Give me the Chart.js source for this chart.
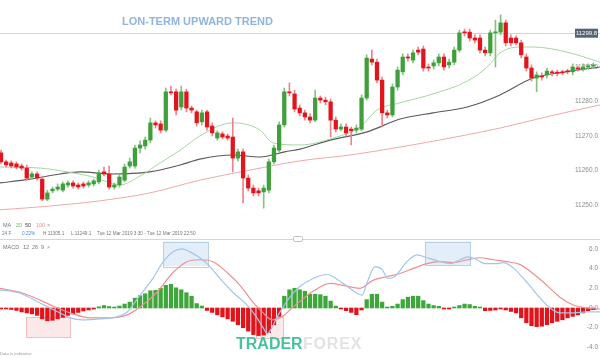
<!DOCTYPE html>
<html><head><meta charset="utf-8">
<script src="https://cdn.jsdelivr.net/npm/chart.js@4/dist/chart.umd.min.js"></script>
<style>
html,body{margin:0;padding:0;background:#fff;}
#wrap{position:relative;width:600px;height:358px;overflow:hidden;font-family:"Liberation Sans",Arial,sans-serif;}
canvas{position:absolute;left:0;}
.t{position:absolute;white-space:nowrap;line-height:1;}
</style></head><body>
<div id="wrap">
<canvas id="price" width="600" height="240" style="top:0"></canvas>
<canvas id="macd" width="600" height="118" style="top:240px"></canvas>
<div class="t" style="left:122px;top:15.5px;font-size:11px;font-weight:bold;color:#8fb4de;">LON-TERM UPWARD TREND</div>
<div class="t" style="left:3px;top:223.3px;font-size:5.5px;color:#777;">MA</div>
<div class="t" style="left:16px;top:223.3px;font-size:5.5px;color:#6dbb66;">20</div>
<div class="t" style="left:25px;top:223.3px;font-size:5.5px;color:#444;">50</div>
<div class="t" style="left:36px;top:223.3px;font-size:5.5px;color:#ef8f8f;">100</div>
<div class="t" style="left:47px;top:223.3px;font-size:5.5px;color:#999;">×</div>
<div class="t" style="left:2px;top:231.5px;font-size:4.7px;color:#6a86a6;">24 F</div>
<div class="t" style="left:22px;top:231.5px;font-size:4.7px;color:#4a8fd8;">0.22%</div>
<div class="t" style="left:43px;top:231.5px;font-size:4.7px;color:#777;">H 11305.1</div>
<div class="t" style="left:71px;top:231.5px;font-size:4.7px;color:#777;">L 11249.1</div>
<div class="t" style="left:97px;top:231.5px;font-size:4.7px;color:#777;">Tue 12 Mar 2019 3:30 - Tue 12 Mar 2019 22:50</div>
<div style="position:absolute;left:0;top:238.5px;width:600px;height:1px;background:#d6d6d6;"></div>
<div style="position:absolute;left:293px;top:236px;width:8px;height:4px;border:1px solid #c4c4c4;border-radius:2px;background:#fff;"></div>
<div class="t" style="left:3px;top:244.6px;font-size:5.5px;color:#777;">MACD</div>
<div class="t" style="left:23px;top:244.6px;font-size:5.5px;color:#777;">12</div>
<div class="t" style="left:32px;top:244.6px;font-size:5.5px;color:#777;">26</div>
<div class="t" style="left:41px;top:244.6px;font-size:5.5px;color:#777;">9</div>
<div class="t" style="left:47px;top:244.6px;font-size:5.5px;color:#999;">×</div>
<div class="t" style="left:0px;top:351.5px;font-size:4.2px;color:#999;">Data is indicative</div>
<div class="t" style="left:236px;top:335.5px;font-size:16px;font-weight:bold;color:#45c49b;letter-spacing:0px;">TRADER</div>
<div class="t" style="left:303px;top:335.5px;font-size:16px;font-weight:bold;color:#e3e3e3;letter-spacing:0.8px;">FOREX</div>
</div>
<script>
// ---------- price panel data ----------
const opens  = [11265.1,11262.5,11262.2,11261.9,11261.3,11260.7,11258.1,11259.0,11257.5,11251.7,
  11254.1,11254.6,11254.3,11255.8,11256.4,11255.8,11256.1,11255.8,11256.1,11256.7,
  11259.6,11259.0,11255.2,11255.8,11257.2,11261.3,11261.3,11266.5,11267.1,11268.8,
  11273.8,11273.5,11271.7,11282.8,11282.8,11278.4,11282.8,11278.1,11277.0,11274.1,
  11277.0,11272.9,11269.4,11270.6,11270.0,11269.7,11263.6,11265.4,11257.8,11254.9,
  11254.1,11253.8,11254.3,11262.5,11265.9,11273.2,11282.8,11282.2,11278.1,11276.7,
  11275.5,11274.6,11281.0,11280.4,11279.9,11274.6,11272.0,11272.6,11272.0,11271.7,
  11272.0,11281.0,11292.3,11291.4,11286.2,11276.7,11276.1,11284.2,11288.6,11292.9,
  11292.0,11294.9,11295.2,11290.0,11290.3,11291.2,11292.9,11290.6,11291.4,11294.9,
  11300.1,11300.1,11298.4,11298.4,11294.9,11294.1,11299.9,11300.1,11302.8,11298.4,
  11298.4,11297.0,11292.9,11289.7,11286.8,11287.4,11287.7,11288.6,11288.5,11288.6,
  11288.8,11288.6,11289.7,11289.4,11290.0,11290.3];
const closes = [11262.5,11261.6,11261.3,11261.0,11260.7,11257.8,11259.0,11257.8,11251.7,11253.5,
  11254.6,11255.2,11256.1,11256.4,11255.5,11255.2,11255.5,11256.4,11257.0,11259.3,
  11259.0,11255.2,11255.8,11258.1,11261.0,11262.5,11266.5,11267.4,11268.8,11273.8,
  11273.2,11271.7,11282.8,11282.5,11277.5,11282.8,11278.1,11277.5,11273.8,11276.7,
  11272.6,11270.9,11270.9,11269.7,11269.4,11263.6,11265.4,11257.8,11254.9,11253.5,
  11253.5,11254.9,11262.5,11266.5,11273.2,11282.8,11282.5,11277.8,11276.7,11275.5,
  11274.6,11281.0,11280.4,11279.9,11274.6,11272.0,11272.6,11270.9,11271.5,11272.3,
  11281.0,11292.6,11291.4,11286.2,11276.7,11276.1,11284.2,11289.1,11292.9,11292.6,
  11294.1,11294.3,11289.7,11289.7,11291.2,11292.9,11290.0,11291.4,11294.9,11299.9,
  11299.9,11298.4,11297.8,11294.9,11294.1,11299.9,11300.1,11302.8,11297.0,11297.0,
  11297.0,11293.5,11289.7,11286.8,11287.7,11287.1,11288.8,11288.3,11288.2,11288.3,
  11288.6,11290.0,11289.4,11290.0,11290.3,11290.6];
const highs  = [11265.9,11263.0,11262.8,11262.5,11261.9,11261.6,11259.6,11259.6,11258.4,11254.3,
  11255.2,11256.1,11256.7,11257.0,11257.0,11256.4,11256.7,11257.0,11257.5,11260.1,
  11261.0,11261.3,11256.4,11259.0,11261.9,11263.6,11267.4,11268.6,11269.7,11275.2,
  11274.4,11274.4,11283.9,11284.5,11283.6,11284.5,11283.6,11278.7,11277.5,11277.5,
  11277.5,11273.8,11271.5,11271.2,11270.6,11275.2,11266.2,11266.2,11258.7,11255.8,
  11254.9,11255.8,11263.3,11267.4,11274.1,11283.9,11285.4,11283.3,11279.0,11277.5,
  11276.4,11283.3,11281.6,11281.3,11280.7,11275.5,11273.5,11273.5,11272.6,11273.2,
  11281.9,11293.5,11294.9,11292.3,11287.1,11277.5,11285.1,11290.0,11293.8,11293.8,
  11294.9,11295.8,11296.1,11290.9,11292.0,11293.8,11293.8,11292.3,11295.8,11300.7,
  11301.0,11301.0,11299.3,11299.3,11295.8,11300.7,11303.6,11305.1,11303.6,11299.3,
  11299.0,11297.8,11293.8,11290.6,11288.6,11288.3,11289.7,11289.1,11289.1,11289.1,
  11289.4,11290.9,11290.3,11290.9,11290.9,11291.2];
const lows   = [11261.9,11261.0,11260.7,11260.4,11260.1,11257.2,11257.5,11257.2,11251.2,11251.2,
  11253.5,11254.1,11253.8,11255.2,11254.9,11254.6,11254.9,11255.2,11255.5,11256.1,
  11258.4,11254.6,11254.6,11255.2,11256.7,11260.7,11260.7,11265.1,11266.2,11268.0,
  11272.3,11270.9,11271.2,11281.9,11276.1,11277.5,11277.0,11276.7,11272.9,11273.2,
  11271.7,11270.0,11268.8,11269.1,11268.8,11259.6,11262.8,11250.6,11254.1,11252.6,
  11252.6,11249.1,11253.5,11261.9,11265.4,11272.6,11281.6,11277.0,11275.8,11274.6,
  11273.8,11274.1,11279.6,11279.0,11269.7,11271.2,11271.5,11270.0,11267.4,11270.9,
  11271.5,11280.4,11290.6,11285.4,11272.6,11275.2,11275.5,11283.3,11287.7,11291.7,
  11291.2,11293.5,11288.8,11288.8,11289.4,11290.3,11289.1,11289.7,11290.6,11294.3,
  11299.0,11297.5,11297.0,11294.1,11293.2,11293.2,11290.0,11299.3,11296.1,11296.1,
  11296.4,11292.6,11288.8,11285.9,11282.8,11286.2,11286.8,11287.4,11287.4,11287.7,
  11288.0,11287.7,11288.8,11288.8,11289.4,11289.7];
const lastPrice = 11299.8;
const priceTicks = [11250, 11260, 11270, 11280, 11290];

// moving averages: candle position -> value
const ma20At  = [-0.2,7.6,12.8,17.9,21.2,23.1,27.0,30.9,34.8,38.6,45.0,50.3,52.8,58.1,64.5,69.7,73.0,77.5,83.9,90.5,94.4,96.9,100.8,103.3,109.9,116.3];
const ma20    = [11261.0,11260.7,11259.6,11258.1,11256.4,11255.8,11258.4,11262.2,11265.9,11270.0,11273.8,11271.7,11268.0,11267.4,11269.4,11272.6,11277.5,11279.6,11282.2,11285.9,11290.0,11294.1,11295.8,11295.8,11294.3,11291.4];
const ma50At  = [-0.2,5.6,11.5,15.3,21.2,28.9,34.8,38.6,45.0,50.3,55.1,58.1,63.9,71.1,77.5,83.9,90.5,96.9,103.3,109.9,116.3];
const ma50    = [11256.4,11257.5,11259.0,11259.6,11259.0,11259.6,11261.6,11263.3,11264.5,11263.9,11265.4,11266.2,11268.8,11271.2,11274.9,11276.7,11278.4,11281.9,11286.8,11288.6,11290.0];
const ma100At = [-0.2,9.5,19.2,28.9,38.6,48.3,58.1,67.8,77.5,87.2,96.9,106.6,116.3];
const ma100   = [11248.6,11249.7,11251.2,11253.5,11257.2,11260.1,11262.8,11264.5,11266.8,11269.4,11272.3,11275.8,11279.0];

// ---------- MACD panel data ----------
const hist = [-0.05,-0.1,-0.15,-0.25,-0.4,-0.5,-0.6,-0.75,-1.1,-1.3,
  -1.25,-1.1,-0.95,-0.75,-0.6,-0.45,-0.3,-0.2,-0.05,0.12,
  0.25,0.15,0.1,0.2,0.4,0.6,1.0,1.25,1.45,1.75,
  1.8,2.0,2.3,2.4,2.05,1.85,1.55,1.2,0.45,0.2,
  -0.25,-0.45,-0.7,-0.9,-1.1,-1.35,-1.7,-2.0,-2.35,-2.7,
  -2.8,-2.75,-2.5,-1.7,-0.85,1.2,1.85,2.0,1.85,1.7,
  1.4,1.4,1.35,1.2,0.7,0.2,-0.07,-0.27,-0.45,-0.68,
  -0.2,0.85,1.4,1.4,0.6,0.02,0.17,0.4,0.85,1.1,
  1.2,1.2,0.75,0.4,0.25,0.17,-0.02,-0.1,0.03,0.25,
  0.4,0.35,0.17,0.05,-0.27,-0.25,-0.2,-0.05,-0.2,-0.35,
  -0.5,-1.0,-1.5,-1.8,-1.9,-1.85,-1.7,-1.5,-1.35,-1.2,
  -1.0,-0.85,-0.7,-0.5,-0.27,-0.17];
const macdAt = [-0.2,3.7,7.6,11.5,13.4,15.9,19.2,22.5,24.5,27.0,29.5,31.5,33.4,35.1,36.7,38.6,40.2,42.5,45.0,47.8,49.7,50.9,51.7,52.6,53.6,54.8,56.1,58.1,60.6,63.3,66.4,69.1,70.1,71.1,72.6,74.0,75.1,76.5,78.8,80.8,82.7,84.7,87.2,89.1,90.7,92.4,94.0,96.3,97.5,99.4,102.1,104.7,106.6,108.5,111.1,113.8,116.3];
const macdLine = [1.85,1.5,0.5,-0.5,-1.0,-1.2,-1.1,-0.9,-0.4,1.3,3.0,4.7,5.7,6.0,5.7,5.1,4.4,3.0,1.6,0.3,-1.0,-2.0,-2.6,-2.0,-0.9,0.1,1.1,2.2,3.0,3.4,2.5,1.5,1.3,2.6,4.2,3.9,3.0,3.2,4.7,5.4,5.1,4.8,4.5,4.9,5.2,4.9,4.5,4.5,4.6,4.1,2.6,1.0,0.0,-0.5,-0.5,-0.4,-0.4];
const signalAt = [-0.2,3.7,7.6,10.5,13.4,17.3,21.2,24.5,27.0,30.3,33.4,36.1,38.6,41.2,43.9,46.4,48.9,50.9,52.6,54.8,56.1,58.1,60.6,63.9,66.4,69.7,72.2,75.0,77.5,80.0,82.7,85.2,87.8,90.5,93.0,95.5,98.3,100.8,103.3,106.0,108.5,111.1,113.8,116.3];
const signalLine = [2.0,1.6,0.8,0.1,-0.5,-1.0,-1.0,-0.7,0.1,1.6,3.6,4.7,4.9,4.7,3.6,2.3,0.6,-0.5,-1.2,-0.8,-0.2,0.7,1.7,2.5,2.3,2.0,2.8,3.2,3.5,4.0,4.5,4.7,4.6,4.9,5.1,4.9,4.7,4.4,3.5,2.3,1.1,0.3,0.0,-0.1];
const macdTicks = [-4, -2, 0, 2, 4, 6];

// ---------- layout / style (not data) ----------
const xMin = -0.194, xMax = 116.3;
const priceMin = 11239.85, priceMax = 11309.42;
const macdMin = -5.076, macdMax = 6.904;
const highlightBoxes = [
  {x0:31.5, x1:40.2, y0:4.26, y1:6.75, fill:'rgba(200,221,243,0.5)', stroke:'rgba(175,203,233,0.9)'},
  {x0:82.3, x1:91.1, y0:4.37, y1:6.75, fill:'rgba(200,221,243,0.5)', stroke:'rgba(175,203,233,0.9)'},
  {x0:4.85, x1:13.4, y0:-2.94, y1:-0.91, fill:'rgba(248,210,210,0.5)', stroke:'rgba(240,185,185,0.9)'},
  {x0:49.5, x1:54.8, y0:-3.0, y1:-0.9, fill:'rgba(248,210,210,0.5)', stroke:'rgba(240,185,185,0.9)'}
];
const UP = '#3f9f3a', DOWN = '#e2141c', UP_WICK = '#86c281', DOWN_WICK = '#ea848b';
const tickFont = {size:6.5, family:'"Liberation Sans", Arial, sans-serif'};

const idx = opens.map((_, i) => i);
const up = idx.map(i => closes[i] >= opens[i]);
const pts = (xs, ys) => xs.map((x, i) => ({x, y: ys[i]}));

const priceLinePlugin = {
  id: 'priceLine',
  beforeDatasetsDraw(chart) {
    const {ctx, chartArea, scales} = chart;
    const py = Math.round(scales.y.getPixelForValue(lastPrice)) + 0.5;
    ctx.save();
    ctx.strokeStyle = '#d4d4d4'; ctx.lineWidth = 1;
    ctx.beginPath(); ctx.moveTo(chartArea.left, py); ctx.lineTo(chartArea.right, py); ctx.stroke();
    ctx.restore();
  },
  afterDatasetsDraw(chart) {
    const {ctx, chartArea, scales} = chart;
    const py = scales.y.getPixelForValue(lastPrice);
    ctx.save();
    ctx.fillStyle = '#556373';
    ctx.fillRect(chartArea.right - 25, py - 4.5, 23, 9);
    ctx.fillStyle = '#fff';
    ctx.font = '6px "Liberation Sans", Arial, sans-serif';
    ctx.textAlign = 'center'; ctx.textBaseline = 'middle';
    ctx.fillText(lastPrice.toFixed(1), chartArea.right - 13.5, py + 0.3);
    ctx.restore();
  }
};

const boxPlugin = {
  id: 'boxes',
  beforeDatasetsDraw(chart) {
    const {ctx, scales:{x, y}} = chart;
    ctx.save();
    highlightBoxes.forEach(b => {
      const l = x.getPixelForValue(b.x0), r = x.getPixelForValue(b.x1);
      const t = y.getPixelForValue(b.y1), btm = y.getPixelForValue(b.y0);
      ctx.fillStyle = b.fill; ctx.fillRect(l, t, r - l, btm - t);
      ctx.strokeStyle = b.stroke; ctx.lineWidth = 1;
      ctx.strokeRect(Math.round(l) + 0.5, Math.round(t) + 0.5, Math.round(r - l), Math.round(btm - t));
    });
    ctx.restore();
  }
};

function yAxis(min, max, step, keep) {
  return {
    position: 'right', min, max,
    grid: {display: false, drawTicks: false},
    border: {display: false},
    ticks: {mirror: true, padding: -2, stepSize: step, color: '#8c8c8c', font: tickFont,
            callback: v => Number(v).toFixed(1)},
    afterBuildTicks(s) { s.ticks = s.ticks.filter(t => keep.some(k => Math.abs(k - t.value) < 1e-6)); },
    afterFit(s) { s.paddingTop = 0; s.paddingBottom = 0; }
  };
}
const common = {
  responsive: false, animation: false, devicePixelRatio: 1,
  layout: {padding: 0},
  plugins: {legend: {display: false}, tooltip: {enabled: false}}
};

new Chart(document.getElementById('price'), {
  type: 'bar',
  data: {datasets: [
    {type: 'line', data: pts(ma100At, ma100), borderColor: '#f1a8a8', borderWidth: 1, pointRadius: 0, cubicInterpolationMode: 'monotone', order: 6},
    {type: 'line', data: pts(ma50At, ma50), borderColor: '#5a5a5a', borderWidth: 1.1, pointRadius: 0, cubicInterpolationMode: 'monotone', order: 5},
    {type: 'line', data: pts(ma20At, ma20), borderColor: '#a6d6a1', borderWidth: 1, pointRadius: 0, cubicInterpolationMode: 'monotone', order: 4},
    {data: idx.map(i => ({x: i, y: [lows[i], highs[i]]})), backgroundColor: idx.map(i => up[i] ? UP_WICK : DOWN_WICK),
     barThickness: 1, grouped: false, borderWidth: 0, order: 2},
    {data: idx.map(i => ({x: i, y: [opens[i], closes[i]]})), backgroundColor: idx.map(i => up[i] ? UP : DOWN),
     barThickness: 3.6, grouped: false, borderWidth: 0, minBarLength: 1, order: 1}
  ]},
  options: Object.assign({}, common, {
    scales: {
      x: {type: 'linear', min: xMin, max: xMax, display: false, offset: false},
      y: yAxis(priceMin, priceMax, 10, priceTicks)
    }
  }),
  plugins: [priceLinePlugin]
});

new Chart(document.getElementById('macd'), {
  type: 'bar',
  data: {datasets: [
    {type: 'line', data: pts(signalAt, signalLine), borderColor: '#ee9090', borderWidth: 1.2, pointRadius: 0, cubicInterpolationMode: 'monotone', order: 2},
    {type: 'line', data: pts(macdAt, macdLine), borderColor: '#a2c6ea', borderWidth: 1.2, pointRadius: 0, cubicInterpolationMode: 'monotone', order: 1},
    {data: idx.map(i => ({x: i, y: hist[i]})), backgroundColor: hist.map(v => v >= 0 ? '#3ea63a' : '#e1141c'),
     barThickness: 3.6, grouped: false, borderWidth: 0, minBarLength: 1, order: 3}
  ]},
  options: Object.assign({}, common, {
    scales: {
      x: {type: 'linear', min: xMin, max: xMax, display: false, offset: false},
      y: yAxis(macdMin, macdMax, 2, macdTicks)
    }
  }),
  plugins: [boxPlugin]
});
</script>
</body></html>
